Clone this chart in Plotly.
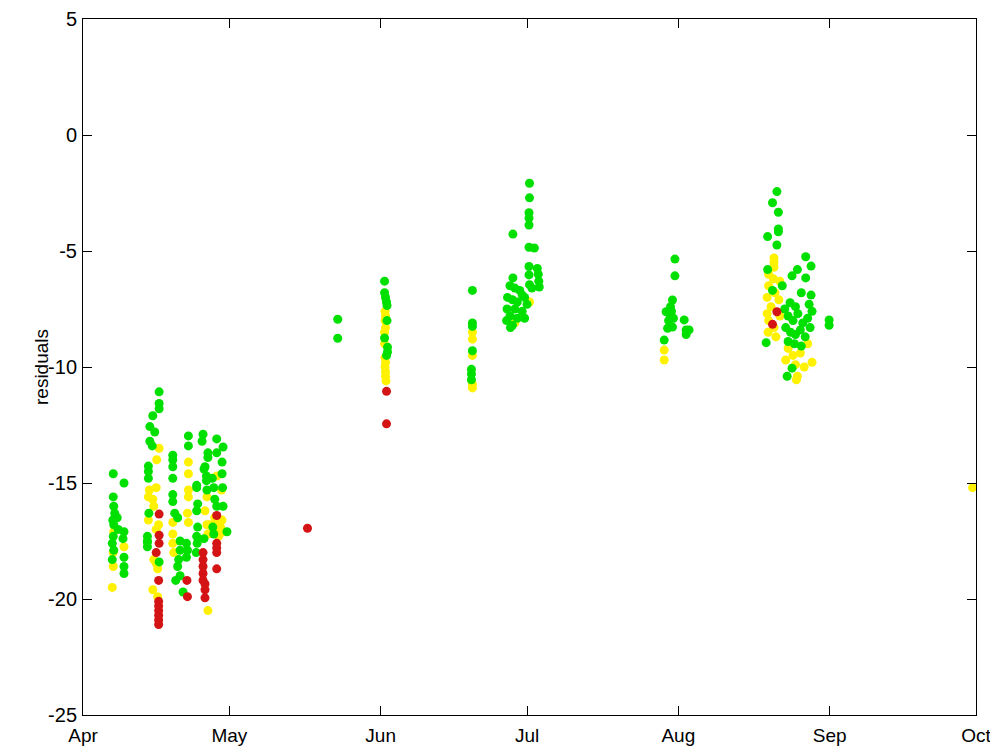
import datetime as dt
import plotly.graph_objects as go

# days since 1 April, residual values
green_day = [6.2, 6.2, 6.3, 6.5, 6.1, 6.3, 6.2, 6.0, 6.3, 6.0, 8.4, 8.4, 8.2, 8.4, 8.4, 8.4, 7.0, 7.2,
             15.6, 15.6, 15.6, 14.3, 13.7, 14.7, 13.7, 14.2, 13.4, 13.4, 13.4, 13.2, 13.2, 13.2, 15.6, 13.5, 13.2,
             18.4, 18.4, 18.4, 18.4, 18.4, 18.4, 18.8, 19.4, 19.9, 19.9, 19.6, 19.4, 19.9, 19.0, 20.5,
             21.6, 21.6, 21.2, 21.4, 21.2,
             23.3, 23.3, 23.5, 23.3, 23.5, 23.3, 23.4, 23.2,
             24.4, 25.6, 25.6, 24.8, 25.3, 25.3, 25.4, 24.8, 24.6, 25.0, 26.5, 26.8, 27.0, 27.4, 26.6, 26.8,
             27.4, 27.4, 28.7, 28.5, 28.5, 28.6, 28.7, 29.5,
             52.2, 52.2,
             61.8, 61.8, 62.0, 62.2, 62.3, 62.3, 61.8, 62.4, 62.4, 62.2,
             79.8, 79.8, 79.8, 79.8, 79.6, 79.6, 79.6,
             91.5, 91.5, 91.4, 91.4, 91.4, 88.1, 91.4, 92.5, 91.4, 91.4, 93.1, 93.3, 93.4, 93.5, 88.1,
             87.5, 88.5, 89.5, 90.0, 91.5, 87.0, 88.0, 89.0, 90.5, 91.0, 86.9, 88.5, 90.0, 87.5, 89.0, 86.8, 88.0, 87.6, 90.5, 92.0,
             121.3, 121.3, 120.8, 120.4, 120.6, 120.4, 119.5, 119.8, 120.8, 119.1, 123.2, 123.6, 123.6, 124.2, 121.0, 120.0,
             142.2, 141.3, 142.5, 142.5, 142.5, 140.3, 142.2, 140.3, 148.1, 149.2, 146.4, 145.3, 148.1, 141.3, 143.3,
             147.2, 149.2, 144.9, 149.4, 152.9, 152.9, 140.0, 145.3, 144.3,
             144.5, 145.5, 146.5, 147.5, 148.5, 144.0, 145.0, 146.0, 147.0, 148.0, 149.0, 144.5, 145.8, 147.2, 143.8, 148.8, 146.0]
green_val = [-14.6, -15.6, -16.0, -16.3, -16.6, -16.8, -17.3, -17.6, -17.9, -18.3, -15.0, -17.1, -17.4, -18.2, -18.6, -18.9, -16.5, -17.0,
             -11.07, -11.57, -11.8, -12.1, -12.57, -12.8, -13.2, -13.4, -14.27, -14.5, -14.8, -17.3, -17.55, -17.75, -18.4, -16.3, -17.5,
             -13.8, -14.0, -14.3, -14.8, -15.5, -15.8, -16.3, -16.5, -17.5, -17.9, -18.3, -18.6, -19.0, -19.2, -19.7,
             -12.97, -13.4, -17.6, -17.9, -18.2,
             -15.1, -15.2, -15.9, -16.2, -16.9, -17.3, -17.6, -18.0,
             -13.2, -13.7, -13.9, -14.4, -14.7, -14.9, -15.3, -17.4, -12.9, -14.3, -14.8, -15.2, -15.7, -16.0, -16.9, -17.2,
             -13.1, -13.7, -13.45, -14.1, -14.6, -15.2, -16.0, -17.1,
             -7.94, -8.76,
             -6.3, -6.8, -7.0, -7.2, -7.35, -8.0, -8.75, -9.15, -9.35, -9.5,
             -6.7, -8.1, -8.25, -9.3, -10.1, -10.3, -10.55,
             -2.08, -2.71, -3.35, -3.58, -3.88, -4.27, -4.84, -4.87, -5.67, -6.03, -5.75, -6.0, -6.3, -6.55, -6.16,
             -6.5, -6.6, -6.7, -6.9, -6.45, -7.0, -7.1, -7.2, -7.0, -7.3, -7.5, -7.5, -7.6, -7.8, -7.9, -8.0, -8.2, -8.3, -7.9, -6.6,
             -5.35, -6.07, -7.11, -7.4, -7.6, -7.85, -7.62, -8.33, -8.28, -8.84, -7.97, -8.4, -8.6, -8.4, -7.9, -8.0,
             -2.44, -2.92, -3.33, -4.05, -4.17, -4.38, -4.74, -5.8, -5.25, -5.65, -5.8, -6.07, -6.16, -6.7, -6.5,
             -6.8, -6.9, -7.23, -7.6, -7.97, -8.2, -8.95, -10.05, -10.4,
             -7.8, -8.0, -7.7, -8.1, -7.9, -8.3, -8.5, -8.6, -8.4, -8.7, -8.3, -8.9, -9.0, -9.1, -7.5, -7.3, -7.4]

yellow_day = [6.3, 6.2, 6.2, 6.0, 8.4,
              15.6, 15.1, 13.4, 14.3, 14.5, 13.4, 14.5, 15.3, 15.3, 14.3, 15.3, 15.0, 15.5, 15.0, 13.6, 15.0,
              18.4, 18.4, 18.4, 18.6,
              21.6, 21.6, 21.6, 21.6, 21.6, 21.4,
              25.4, 25.4, 25.6, 25.6, 25.0,
              27.4, 28.4, 27.0, 27.6, 28.2, 28.8, 27.8, 28.5, 27.2, 26.0,
              61.9, 62.0, 61.9, 62.0, 61.8, 61.9, 62.0, 61.9, 62.0, 62.0, 62.1, 61.8,
              79.8, 79.8, 79.8, 79.8, 79.8,
              91.5, 88.5,
              119.1, 119.1,
              141.6, 141.6, 141.6, 140.5, 141.5, 142.8, 140.5, 141.8, 140.2, 142.6, 141.0, 140.2, 142.8, 140.5, 141.6, 140.4, 142.0,
              144.5, 145.5, 147.0, 148.5, 146.0, 149.4, 146.4, 144.0, 147.8, 146.2,
              182.3]
yellow_val = [-17.1, -18.0, -18.6, -19.5, -17.75,
              -13.5, -14.0, -15.6, -15.7, -16.0, -16.6, -18.3, -18.5, -18.7, -19.6, -19.9, -15.2, -16.8, -17.0, -15.3, -18.45,
              -16.7, -17.2, -17.6, -18.0,
              -14.1, -14.6, -15.3, -15.6, -16.7, -16.3,
              -15.6, -16.8, -17.2, -20.5, -16.2,
              -14.7, -15.3, -16.5, -16.7, -16.9, -17.1, -17.3, -16.6, -17.0, -16.8,
              -7.6, -7.8, -8.0, -8.3, -8.5, -9.6, -9.8, -10.0, -10.2, -10.4, -10.6, -9.0,
              -8.5, -8.8, -9.5, -10.75, -10.9,
              -7.2, -8.1,
              -9.27, -9.7,
              -5.3, -5.5, -5.7, -6.0, -6.2, -6.3, -6.5, -6.8, -7.0, -7.1, -7.4, -7.7, -7.8, -8.0, -8.3, -8.5, -8.7,
              -9.2, -9.5, -9.4, -9.0, -9.9, -9.8, -10.4, -9.7, -10.0, -10.55,
              -15.2]

red_day = [15.6, 15.6, 15.6, 15.0, 15.5, 15.5, 15.5, 15.5, 15.5, 15.5, 15.5,
           21.3, 21.4,
           24.6, 24.6, 24.6, 24.6, 24.6, 25.0, 25.0, 25.0,
           27.4, 27.4, 27.4, 27.4, 27.4,
           46.0,
           62.2, 62.2,
           142.2, 141.3]
red_val = [-16.34, -17.25, -17.6, -18.0, -19.2, -20.1, -20.3, -20.5, -20.7, -20.9, -21.1,
           -19.2, -19.9,
           -18.0, -18.3, -18.6, -18.9, -19.2, -19.35, -19.6, -19.95,
           -16.4, -17.6, -17.8, -18.0, -18.7,
           -16.95,
           -11.05, -12.45,
           -7.62, -8.16]

month_ticks = ["2009-04-01", "2009-05-01", "2009-06-01", "2009-07-01", "2009-08-01", "2009-09-01", "2009-10-01"]
month_labels = ["Apr", "May", "Jun", "Jul", "Aug", "Sep", "Oct"]
y_ticks = [-25, -20, -15, -10, -5, 0, 5]

base = dt.datetime(2009, 4, 1)


def to_dates(days):
    return [base + dt.timedelta(days=d) for d in days]


fig = go.Figure()
for days, vals, col in [(yellow_day, yellow_val, "#fff200"),
                        (green_day, green_val, "#00e000"),
                        (red_day, red_val, "#d41414")]:
    fig.add_trace(go.Scatter(x=to_dates(days), y=vals, mode="markers",
                             marker=dict(symbol="circle", size=9, color=col, line=dict(width=0)),
                             showlegend=False, hoverinfo="skip"))

font_family = "Liberation Sans, Arial, sans-serif"
axis_common = dict(showgrid=False, zeroline=False, showline=True, linecolor="#000000", linewidth=1,
                   mirror="ticks", ticks="inside", ticklen=9, tickcolor="#000000")

# page body has an 8px margin, so the figure is sized/offset to compensate
fig.update_layout(
    width=990, height=741,
    margin=dict(l=75, r=22, t=11, b=34, autoexpand=False),
    paper_bgcolor="#ffffff", plot_bgcolor="#ffffff",
    font=dict(family=font_family, color="#000000"),
    xaxis=dict(type="date", range=[month_ticks[0], month_ticks[-1]], tickvals=month_ticks,
               ticktext=month_labels, ticklabelstandoff=3,
               tickfont=dict(family=font_family, size=19, color="#000000"), **axis_common),
    yaxis=dict(range=[-25, 5], tickvals=y_ticks, ticktext=[str(v) for v in y_ticks],
               ticklabelstandoff=1,
               tickfont=dict(family=font_family, size=20, color="#000000"), **axis_common),
    annotations=[dict(text="residuals", xref="paper", yref="paper", x=0, y=0.5,
                      xanchor="center", yanchor="middle", xshift=-42, textangle=-90,
                      showarrow=False, font=dict(family=font_family, size=19, color="#000000"))],
)

fig.write_html("out.html")
